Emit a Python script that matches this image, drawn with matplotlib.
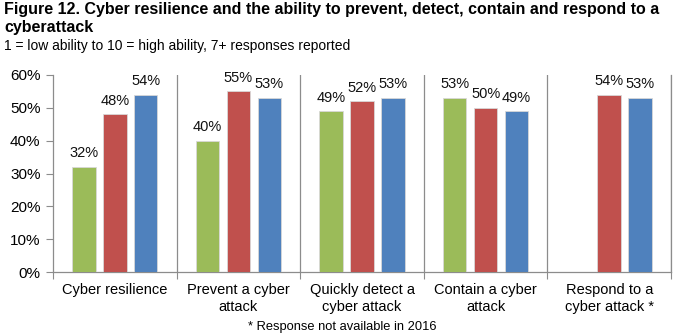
import matplotlib
matplotlib.use("Agg")
import matplotlib.pyplot as plt
import numpy as np

categories = ["Cyber resilience", "Prevent a cyber\nattack", "Quickly detect a\ncyber attack",
              "Contain a cyber\nattack", "Respond to a\ncyber attack *"]
series_2016 = [32, 40, 49, 53, np.nan]
series_2017 = [48, 55, 52, 50, 54]
series_2018 = [54, 53, 53, 49, 53]
yticks = [0, 10, 20, 30, 40, 50, 60]

colors = ["#9BBB59", "#C0504D", "#4F81BD"]

plt.rcParams["font.family"] = ["Liberation Sans", "DejaVu Sans"]

fig = plt.figure(figsize=(6.84, 3.36), dpi=100)
ax = fig.add_axes([53 / 684, 1 - 272 / 336, (671 - 53) / 684, (272 - 75) / 336])

x = np.arange(len(categories))
width = 0.19
step = 0.25
for i, (vals, c) in enumerate(zip([series_2016, series_2017, series_2018], colors)):
    pos = x + (i - 1) * step
    ax.bar(pos, vals, width=width, color=c, zorder=3,
           edgecolor="#d8d8d8", linewidth=0.6)
    for p, v in zip(pos, vals):
        if not np.isnan(v):
            ax.text(p, v + 2.0, f"{v:.0f}%", ha="center", va="bottom", fontsize=10.5,
                    color="#111111")

ax.set_xlim(-0.5, len(categories) - 0.5)
ax.set_ylim(0, 60)
ax.set_yticks(yticks)
ax.set_yticklabels([f"{t}%" for t in yticks], fontsize=11)

# category separators
for b in np.arange(0.5, len(categories) - 0.5 + 1e-9, 1):
    ax.axvline(b, color="#8c8c8c", lw=0.9, zorder=1)

ax.set_xticks(np.arange(-0.5, len(categories) - 0.4, 1))
ax.set_xticklabels([])
ax.set_xticks(x, minor=True)
ax.set_xticklabels(categories, minor=True, fontsize=10.5, linespacing=1.25)
ax.tick_params(axis="x", which="minor", length=0, pad=8)
ax.tick_params(axis="x", which="major", length=5, color="#8c8c8c")
ax.tick_params(axis="y", length=5, color="#8c8c8c", pad=4)

ax.spines["top"].set_visible(False)
for s in ["left", "bottom", "right"]:
    ax.spines[s].set_color("#8c8c8c")
    ax.spines[s].set_linewidth(0.9)

fig.text(0.006, 0.995, "Figure 12. Cyber resilience and the ability to prevent, detect, contain and respond to a\ncyberattack",
         ha="left", va="top", fontsize=11.5, fontweight="bold", linespacing=1.25)
fig.text(0.006, 0.885, "1 = low ability to 10 = high ability, 7+ responses reported",
         ha="left", va="top", fontsize=10)
fig.text(0.5, 0.008, "* Response not available in 2016", ha="center", va="bottom", fontsize=9.3)

fig.savefig("out.png", dpi=100)
